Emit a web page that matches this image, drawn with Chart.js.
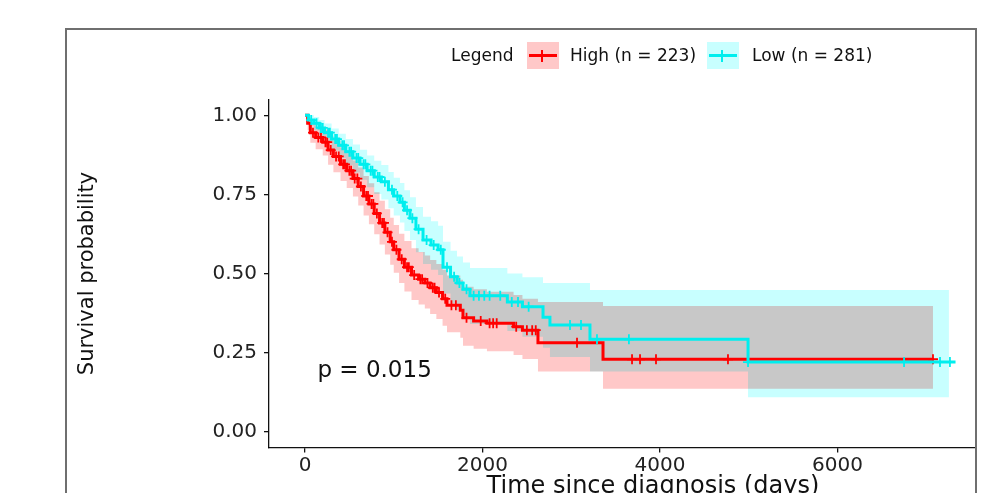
<!DOCTYPE html>
<html>
<head>
<meta charset="utf-8">
<script src="https://cdn.jsdelivr.net/npm/chart.js@4.4.1/dist/chart.umd.min.js"></script>
<style>
  html, body { margin: 0; padding: 0; background: #fff; overflow: hidden; }
  body { width: 983px; height: 493px; position: relative; font-family: "DejaVu Sans", sans-serif; }
  #plot { position: absolute; left: 0; top: 0; width: 976px; height: 493px; overflow: hidden; }
  #frame { position: absolute; left: 65px; top: 27.5px; width: 912px; height: 480px; border: 2px solid #6f6f6f; border-bottom: none; box-sizing: border-box; }
  #legend { position: absolute; left: 0; top: 42px; height: 27px; font-size: 17px; color: #111; }
  .lg-text { position: absolute; top: 0; line-height: 27px; white-space: nowrap; }
  .lg-key { position: absolute; top: 0; width: 32px; height: 27px; }
  .lg-key .bar { position: absolute; left: 2px; right: 2px; top: 12px; height: 3px; }
  .lg-key .tick { position: absolute; left: 14px; top: 8px; width: 2px; height: 12px; }
</style>
</head>
<body>
<div id="plot"><canvas id="chart" width="1045" height="520"></canvas></div>
<div id="frame"></div>
<div id="legend">
  <span class="lg-text" style="left:451px">Legend</span>
  <div class="lg-key" style="left:527px; background:rgb(255,200,200)"><div class="bar" style="background:#ff0000"></div><div class="tick" style="background:#ff0000"></div></div>
  <span class="lg-text" style="left:570px">High (n = 223)</span>
  <div class="lg-key" style="left:707px; background:rgb(200,255,255)"><div class="bar" style="background:#00eeee"></div><div class="tick" style="background:#00eeee"></div></div>
  <span class="lg-text" style="left:752px">Low (n = 281)</span>
</div>
<script>
// High group (n = 223): KM steps and 95% band
const highTime  = [0, 30, 60, 120, 200, 260, 320, 400, 470, 540, 600, 660, 720, 780, 840, 900, 960, 1000, 1060, 1120, 1200, 1280, 1350, 1410, 1480, 1550, 1600, 1750, 1780, 1900, 2050, 2350, 2450, 2625, 3358, 7076];
const highSurv  = [1.0, 0.975, 0.945, 0.93, 0.915, 0.89, 0.87, 0.845, 0.825, 0.80, 0.775, 0.745, 0.72, 0.69, 0.66, 0.63, 0.60, 0.575, 0.545, 0.52, 0.495, 0.482, 0.47, 0.455, 0.44, 0.42, 0.40, 0.384, 0.36, 0.35, 0.343, 0.332, 0.321, 0.281, 0.229, 0.229];
const highUpper = [1.0, 0.995, 0.975, 0.965, 0.955, 0.935, 0.92, 0.898, 0.88, 0.857, 0.835, 0.808, 0.785, 0.757, 0.73, 0.703, 0.676, 0.653, 0.626, 0.603, 0.58, 0.568, 0.557, 0.543, 0.53, 0.512, 0.494, 0.48, 0.458, 0.45, 0.442, 0.432, 0.42, 0.41, 0.397, 0.397];
const highLower = [1.0, 0.953, 0.913, 0.893, 0.873, 0.844, 0.82, 0.792, 0.77, 0.743, 0.715, 0.683, 0.656, 0.624, 0.592, 0.56, 0.528, 0.502, 0.47, 0.443, 0.416, 0.402, 0.389, 0.372, 0.356, 0.335, 0.314, 0.297, 0.272, 0.262, 0.254, 0.242, 0.23, 0.19, 0.136, 0.136];
const highCensorTime = [90, 150, 180, 230, 250, 290, 350, 380, 430, 450, 500, 520, 560, 590, 630, 690, 710, 750, 770, 810, 870, 890, 930, 980, 1030, 1090, 1150, 1170, 1230, 1300, 1320, 1380, 1440, 1460, 1510, 1580, 1650, 1700, 1820, 1980, 2080, 2120, 2160, 2380, 2500, 2560, 2600, 3065, 3685, 3775, 3955, 4766, 7076];
const highCensorSurv = [0.945, 0.93, 0.93, 0.915, 0.915, 0.89, 0.87, 0.87, 0.845, 0.845, 0.825, 0.825, 0.80, 0.80, 0.775, 0.745, 0.745, 0.72, 0.72, 0.69, 0.66, 0.66, 0.63, 0.60, 0.575, 0.545, 0.52, 0.52, 0.495, 0.482, 0.482, 0.47, 0.455, 0.455, 0.44, 0.42, 0.40, 0.40, 0.36, 0.35, 0.343, 0.343, 0.343, 0.332, 0.321, 0.321, 0.321, 0.281, 0.229, 0.229, 0.229, 0.229, 0.229];

// Low group (n = 281)
const lowTime  = [0, 40, 100, 160, 220, 300, 380, 460, 540, 620, 700, 780, 860, 940, 1000, 1070, 1120, 1183, 1250, 1330, 1420, 1500, 1555, 1640, 1713, 1780, 1859, 2280, 2450, 2682, 2760, 3211, 4992, 7256];
const lowSurv  = [1.0, 0.985, 0.975, 0.96, 0.945, 0.925, 0.905, 0.885, 0.865, 0.845, 0.825, 0.805, 0.79, 0.765, 0.745, 0.725, 0.70, 0.675, 0.64, 0.606, 0.59, 0.575, 0.52, 0.49, 0.47, 0.45, 0.43, 0.41, 0.395, 0.362, 0.337, 0.292, 0.22, 0.22];
const lowUpper = [1.0, 1.0, 0.995, 0.985, 0.974, 0.958, 0.942, 0.925, 0.908, 0.891, 0.873, 0.856, 0.843, 0.821, 0.803, 0.786, 0.763, 0.741, 0.71, 0.679, 0.665, 0.651, 0.60, 0.572, 0.554, 0.535, 0.517, 0.50, 0.488, 0.47, 0.47, 0.448, 0.448, 0.448];
const lowLower = [1.0, 0.968, 0.952, 0.932, 0.913, 0.889, 0.865, 0.842, 0.819, 0.796, 0.773, 0.751, 0.734, 0.706, 0.683, 0.661, 0.634, 0.606, 0.567, 0.53, 0.512, 0.495, 0.437, 0.405, 0.384, 0.362, 0.34, 0.318, 0.30, 0.265, 0.236, 0.19, 0.109, 0.109];
const lowEndTime = 7330;
const lowCensorTime = [70, 130, 180, 200, 260, 280, 340, 360, 420, 440, 500, 520, 580, 600, 660, 680, 740, 760, 820, 840, 900, 980, 1040, 1100, 1150, 1210, 1280, 1370, 1450, 1530, 1600, 1680, 1740, 1820, 1900, 1960, 2020, 2080, 2200, 2330, 2400, 2520, 2986, 3110, 3290, 3650, 4992, 6750, 7155, 7267];
const lowCensorSurv = [0.985, 0.975, 0.96, 0.96, 0.945, 0.945, 0.925, 0.925, 0.905, 0.905, 0.885, 0.885, 0.865, 0.865, 0.845, 0.845, 0.825, 0.825, 0.805, 0.805, 0.79, 0.765, 0.745, 0.725, 0.70, 0.675, 0.64, 0.606, 0.59, 0.575, 0.52, 0.49, 0.47, 0.45, 0.43, 0.43, 0.43, 0.43, 0.43, 0.41, 0.41, 0.395, 0.337, 0.337, 0.292, 0.292, 0.22, 0.22, 0.22, 0.22];

const xTicks = [0, 2000, 4000, 6000];
const yTicks = [0, 0.25, 0.5, 0.75, 1];
const pText = 'p = 0.015';
const pAt = { x: 140, y: 0.174 };

const highColor = '#ff0000';
const lowColor = '#00eeee';
const highBand = 'rgb(255,200,200)';
const lowBand = 'rgb(200,255,255)';
const inkColor = '#111';

function toPoints(xs, ys) {
    return xs.map((x, i) => ({ x: x, y: ys[i] }));
}

// bands are multiplied so the overlap turns grey, like the original
const blendBands = {
    id: 'blendBands',
    beforeDraw(chart) { chart.ctx.globalCompositeOperation = 'multiply'; },
    beforeDatasetsDraw(chart) { chart.ctx.globalCompositeOperation = 'source-over'; }
};

const pValueLabel = {
    id: 'pValueLabel',
    afterDatasetsDraw(chart) {
        const { ctx, scales } = chart;
        ctx.save();
        ctx.font = '23px "DejaVu Sans"';
        ctx.fillStyle = inkColor;
        ctx.textAlign = 'left';
        ctx.textBaseline = 'alphabetic';
        ctx.fillText(pText, scales.x.getPixelForValue(pAt.x), scales.y.getPixelForValue(pAt.y));
        ctx.restore();
    }
};

const band = (data, fill, color) => ({
    data: data, stepped: true, fill: fill, backgroundColor: color,
    borderColor: 'transparent', borderWidth: 0, pointRadius: 0, order: 10
});

const axisGrid = { drawOnChartArea: false, drawTicks: true, tickLength: 5, color: inkColor, lineWidth: 1.3 };
const axisBorder = { display: true, color: inkColor, width: 1.3 };

new Chart(document.getElementById('chart'), {
    type: 'line',
    data: {
        datasets: [
            band(toPoints(highTime, highUpper), false, highBand),
            band(toPoints(highTime, highLower), '-1', highBand),
            band(toPoints(lowTime, lowUpper), false, lowBand),
            band(toPoints(lowTime, lowLower), '-1', lowBand),
            {
                label: 'High (n = 223)',
                data: toPoints(highTime, highSurv),
                stepped: true, fill: false, borderColor: highColor, borderWidth: 3,
                pointRadius: 0, order: 4
            },
            {
                label: 'High censored',
                data: toPoints(highCensorTime, highCensorSurv),
                showLine: false, fill: false, pointStyle: 'cross', pointRadius: 5,
                pointBorderColor: highColor, pointBorderWidth: 1.8, order: 3
            },
            {
                label: 'Low (n = 281)',
                data: toPoints(lowTime.concat([lowEndTime]), lowSurv.concat([lowSurv[lowSurv.length - 1]])),
                stepped: true, fill: false, borderColor: lowColor, borderWidth: 3,
                pointRadius: 0, order: 2
            },
            {
                label: 'Low censored',
                data: toPoints(lowCensorTime, lowCensorSurv),
                showLine: false, fill: false, pointStyle: 'cross', pointRadius: 5,
                pointBorderColor: lowColor, pointBorderWidth: 1.8, order: 1
            }
        ]
    },
    options: {
        responsive: false,
        animation: false,
        events: [],
        layout: { padding: { top: 99.5, right: 8, bottom: 0, left: 0 } },
        plugins: {
            legend: { display: false },
            tooltip: { enabled: false },
            filler: { drawTime: 'beforeDatasetsDraw' }
        },
        scales: {
            x: {
                type: 'linear',
                min: -405.6,
                max: 8248,
                afterBuildTicks: s => { s.ticks = xTicks.map(v => ({ value: v })); },
                afterFit: s => { s.height = 72.5; },
                ticks: {
                    color: '#222', font: { family: 'DejaVu Sans', size: 20 }, padding: 1,
                    maxRotation: 0, autoSkip: false, callback: v => String(v)
                },
                grid: axisGrid,
                border: axisBorder,
                title: {
                    display: true, text: 'Time since diagnosis (days)', color: inkColor,
                    font: { family: 'DejaVu Sans', size: 24 }, padding: { top: 0, bottom: 18.4 }
                }
            },
            y: {
                min: -0.05,
                max: 1.05,
                afterBuildTicks: s => { s.ticks = yTicks.map(v => ({ value: v })); },
                afterFit: s => { s.width = 269; },
                ticks: {
                    color: '#222', font: { family: 'DejaVu Sans', size: 20 }, padding: 7,
                    callback: v => v.toFixed(2)
                },
                grid: axisGrid,
                border: axisBorder,
                title: {
                    display: true, text: 'Survival probability', color: inkColor,
                    font: { family: 'DejaVu Sans', size: 21 }, padding: { top: 75, bottom: 0 }
                }
            }
        }
    },
    plugins: [blendBands, pValueLabel]
});
</script>
</body>
</html>
